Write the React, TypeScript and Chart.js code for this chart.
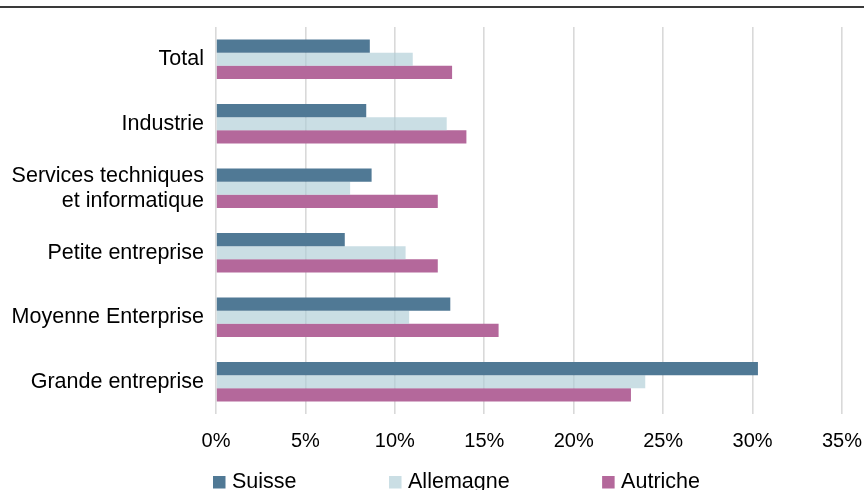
import React, { useEffect, useRef } from "react";
import { Chart, registerables } from "chart.js";

Chart.register(...registerables);

const categories: (string | string[])[] = [
  "Total",
  "Industrie",
  ["Services techniques", "et informatique"],
  "Petite entreprise",
  "Moyenne Enterprise",
  "Grande entreprise",
];

const seriesNames = ["Suisse", "Allemagne", "Autriche"];
const suisse = [8.6, 8.4, 8.7, 7.2, 13.1, 30.3];
const allemagne = [11.0, 12.9, 7.5, 10.6, 10.8, 24.0];
const autriche = [13.2, 14.0, 12.4, 12.4, 15.8, 23.2];
const seriesColors = ["#507995", "rgba(174,204,213,0.65)", "#b4689b"];

const xMin = 0;
const xMax = 35;
const xStep = 5;

const FONT = "'Liberation Sans', Arial, Helvetica, sans-serif";

// Thin rule across the top of the figure
const topRule = {
  id: "topRule",
  beforeDraw(chart: Chart) {
    const { ctx, width } = chart;
    ctx.save();
    ctx.fillStyle = "#3a3a3a";
    ctx.fillRect(0, 6, width, 2);
    ctx.restore();
  },
};

// Legend row under the axis: square swatch + label, fixed gap between items
const bottomLegend = {
  id: "bottomLegend",
  afterDraw(chart: Chart) {
    const { ctx, chartArea } = chart;
    const size = 12.5;
    const gap = 92.5;
    const fontSize = 21.5;
    ctx.save();
    ctx.font = `${fontSize}px ${FONT}`;
    ctx.textBaseline = "alphabetic";
    ctx.textAlign = "left";
    let x = chartArea.left - 3;
    const baseline = 488;
    chart.data.datasets.forEach((ds: any) => {
      ctx.fillStyle = ds.backgroundColor as string;
      ctx.fillRect(x, baseline - 12, size, size);
      ctx.fillStyle = "#000";
      const tx = x + size + 6.5;
      ctx.fillText(ds.label, tx, baseline);
      x = tx + ctx.measureText(ds.label).width + gap;
    });
    ctx.restore();
  },
};

export default function App() {
  const ref = useRef<HTMLCanvasElement | null>(null);

  useEffect(() => {
    if (!ref.current) return;
    const values = [suisse, allemagne, autriche];
    const chart = new Chart(ref.current, {
      type: "bar",
      data: {
        labels: categories,
        datasets: seriesNames.map((name, i) => ({
          label: name,
          data: values[i],
          backgroundColor: seriesColors[i],
          borderWidth: 0,
          barPercentage: 1.0,
          categoryPercentage: 0.61,
        })),
      },
      options: {
        indexAxis: "y",
        responsive: false,
        animation: false,
        devicePixelRatio: 1,
        layout: { padding: { top: 27, right: 22, bottom: 37, left: 0 } },
        plugins: {
          legend: { display: false },
          tooltip: { enabled: false },
        },
        scales: {
          x: {
            min: xMin,
            max: xMax,
            border: { display: false },
            grid: { color: "#d9d9d9", lineWidth: 1.6, drawTicks: false },
            ticks: {
              stepSize: xStep,
              padding: 15,
              maxRotation: 0,
              color: "#000",
              font: { family: FONT, size: 20 },
              callback: (v: any) => `${v}%`,
            },
            afterFit(scale: any) {
              scale.height = 39;
              scale.paddingLeft = 0;
              scale.paddingRight = 0;
            },
          },
          y: {
            border: { display: false },
            grid: { display: false, drawTicks: false },
            ticks: {
              padding: 12,
              color: "#000",
              font: { family: FONT, size: 21.5, lineHeight: 1.17 },
            },
            afterFit(scale: any) {
              scale.width = 216;
            },
          },
        },
      },
      plugins: [topRule, bottomLegend],
    });
    return () => chart.destroy();
  }, []);

  return (
    <div style={{ position: "absolute", left: 0, top: 0, width: 864, height: 490, background: "#fff" }}>
      <canvas ref={ref} width={864} height={490} style={{ display: "block" }} />
    </div>
  );
}
